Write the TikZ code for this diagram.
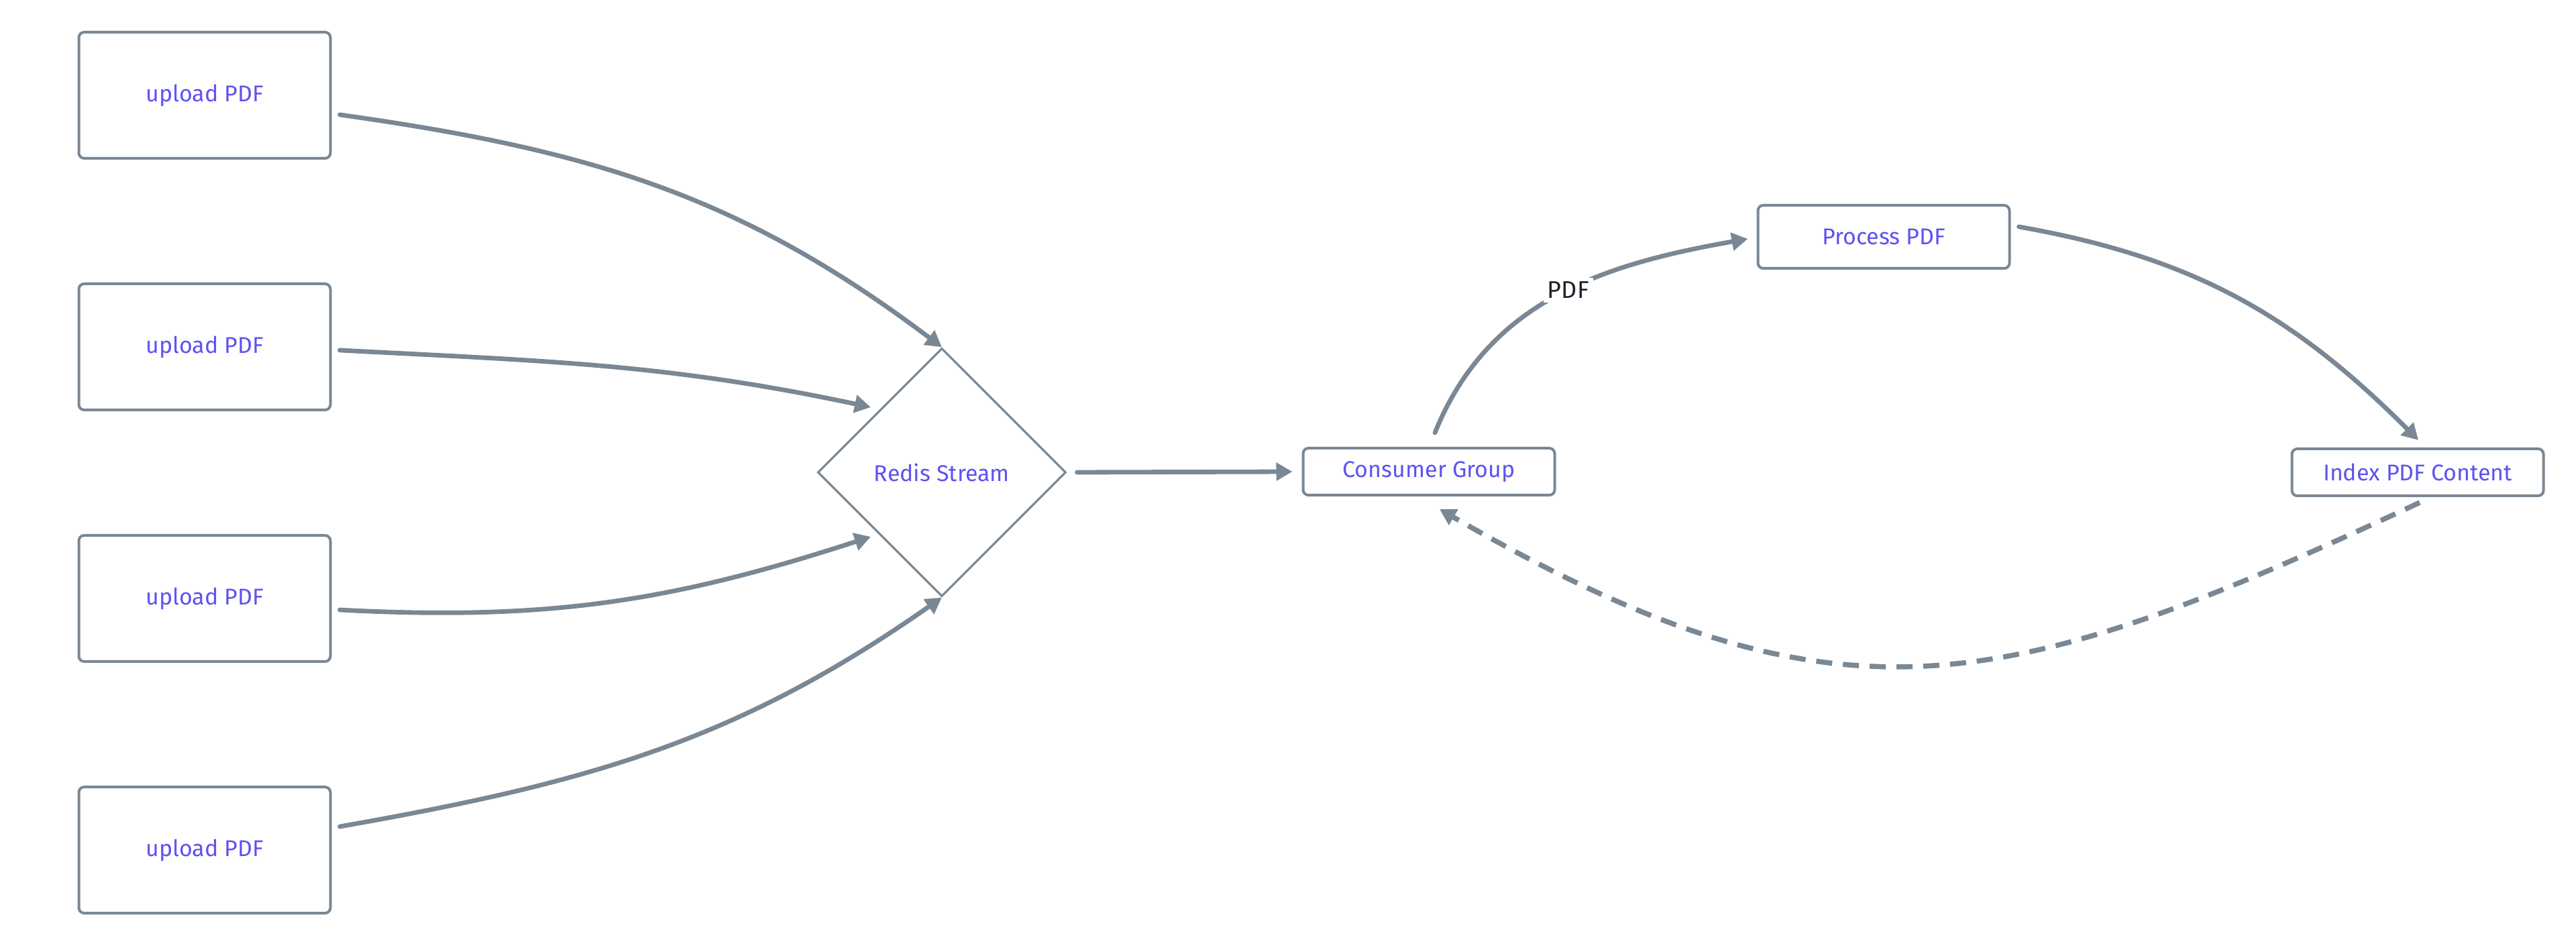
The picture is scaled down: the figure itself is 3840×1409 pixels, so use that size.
\documentclass[tikz,border=0pt]{standalone}
\usepackage{fontspec}
\setmainfont{Fira Sans}
\usetikzlibrary{shapes.geometric,arrows.meta,calc}
\definecolor{edgecol}{RGB}{122,135,148}
\definecolor{txtcol}{RGB}{95,82,240}
\definecolor{lblcol}{RGB}{30,35,45}
\begin{document}
\begin{tikzpicture}[x=0.5pt,y=0.5pt,
  box/.style={draw=edgecol,line width=2pt,rounded corners=4pt,minimum width=187.5pt,inner sep=0pt,text=txtcol,font=\fontsize{17}{20}\selectfont},
  bigbox/.style={box,minimum height=94pt},
  midbox/.style={box,minimum height=47pt},
  smallbox/.style={box,minimum height=35pt},
  dia/.style={diamond,aspect=1,draw=edgecol,line width=1.6pt,minimum size=185pt,inner sep=0pt,text=txtcol,font=\fontsize{17}{20}\selectfont},
  conn/.style={draw=edgecol,line width=3.4pt,line cap=round,-{Triangle[length=12pt,width=13pt]}},
  dconn/.style={conn,line cap=butt,line width=3.8pt,dash pattern=on 12pt off 8pt},
  lbl/.style={fill=white,text=lblcol,inner sep=3pt,font=\fontsize{18}{21}\selectfont}
]
\useasboundingbox (0,0) rectangle (3840,1409);

\node[bigbox] (u1) at (305,1267) {upload PDF};
\node[bigbox] (u2) at (305,892) {upload PDF};
\node[bigbox] (u3) at (305,517) {upload PDF};
\node[bigbox] (u4) at (305,142) {upload PDF};
\node[dia] (rs) at (1404,705) {Redis Stream};
\node[smallbox] (cg) at (2130,706) {Consumer Group};
\node[midbox] (pp) at (2808,1056) {Process PDF};
\node[smallbox] (ix) at (3604,705) {Index PDF Content};

\draw[conn] ($(u1.east)+(12,-29)$) to[out=-8,in=143] (rs.north);
\draw[conn] ($(u2.east)+(12,-5)$) to[out=-3,in=168] ($(rs.center)+(-106,97)$);
\draw[conn] ($(u3.east)+(12,-17)$) to[out=-3,in=-162] ($(rs.center)+(-106,-96)$);
\draw[conn] ($(u4.east)+(12,35)$) to[out=10,in=-145] (rs.south);

\draw[conn] ($(rs.east)+(15,0)$) -- ($(cg.west)+(-14,0)$);
\draw[conn] ($(cg.north)+(9,21)$) to[out=68,in=-170] node[lbl,pos=0.53] {PDF} ($(pp.west)+(-13,-3)$);
\draw[conn] ($(pp.east)+(12,15)$) to[out=-10,in=135] ($(ix.north)+(1,11)$);
\draw[dconn] ($(ix.south)+(3,-8)$) to[out=205,in=-30,looseness=1.2] ($(cg.south)+(16,-19)$);
\end{tikzpicture}
\end{document}
